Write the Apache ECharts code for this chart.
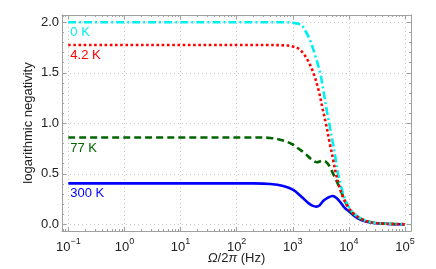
<!DOCTYPE html>
<html><head><meta charset="utf-8">
<script src="https://cdn.jsdelivr.net/npm/echarts@6/dist/echarts.min.js"></script>
<style>html,body{margin:0;padding:0;background:#fff}#c{width:436px;height:269px}</style>
</head><body><div id="c"></div>
<script>
// Tick labels (x: powers of ten, y: values)
const xTickExp = [-1, 0, 1, 2, 3, 4, 5];
const yTicks = [0, 0.5, 1.0, 1.5, 2.0];
const seriesNames = ['0 K', '4.2 K', '77 K', '300 K'];

// x values are log10 of Ω/2π in Hz; y values are logarithmic negativity
const logFreq0K = [-1, 2.5, 2.9, 3.0, 3.1, 3.16, 3.22, 3.31, 3.40, 3.49, 3.55, 3.61, 3.65, 3.71, 3.76, 3.80, 3.90, 4.0, 4.1, 4.2, 4.32, 4.45, 4.6, 4.8, 5.0];
const neg0K     = [2.0, 2.0, 2.0, 1.995, 1.985, 1.97, 1.92, 1.82, 1.67, 1.495, 1.31, 1.115, 1.0, 0.82, 0.66, 0.52, 0.30, 0.17, 0.10, 0.062, 0.031, 0.015, 0.007, 0.003, 0.001];

const logFreq4K = [-1, 2.5, 2.9, 3.0, 3.10, 3.19, 3.28, 3.37, 3.46, 3.53, 3.59, 3.66, 3.72, 3.77, 3.88, 4.0, 4.1, 4.2, 4.32, 4.45, 4.6, 4.8, 5.0];
const neg4K     = [1.775, 1.775, 1.77, 1.76, 1.74, 1.69, 1.61, 1.495, 1.33, 1.15, 1.0, 0.80, 0.64, 0.50, 0.29, 0.16, 0.10, 0.06, 0.03, 0.015, 0.007, 0.003, 0.001];

const logFreq77K = [-1, 2.3, 2.6, 2.83, 3.0, 3.1, 3.22, 3.34, 3.43, 3.53, 3.60, 3.66, 3.72, 3.78, 3.84, 3.94, 4.02, 4.1, 4.2, 4.32, 4.45, 4.6, 4.8, 5.0];
const neg77K     = [0.86, 0.86, 0.855, 0.83, 0.79, 0.75, 0.70, 0.64, 0.615, 0.63, 0.615, 0.57, 0.50, 0.43, 0.356, 0.22, 0.14, 0.09, 0.058, 0.03, 0.015, 0.007, 0.003, 0.001];

const logFreq300K = [-1, 2.3, 2.6, 2.83, 3.01, 3.16, 3.28, 3.35, 3.42, 3.48, 3.55, 3.63, 3.71, 3.78, 3.86, 3.93, 4.0, 4.08, 4.16, 4.26, 4.38, 4.5, 4.7, 5.0];
const neg300K     = [0.405, 0.405, 0.40, 0.38, 0.34, 0.27, 0.21, 0.185, 0.175, 0.19, 0.235, 0.265, 0.28, 0.26, 0.21, 0.16, 0.13, 0.09, 0.06, 0.035, 0.018, 0.01, 0.004, 0.001];

const X_MIN = -1.112, X_MAX = 5.107, Y_MIN = -0.066, Y_MAX = 2.072;
const FONT = '"Liberation Sans", Arial, sans-serif';
const FRAME = '#a0a0a0';

const xMinor = [];
for (let n = -2; n <= 5; n++) for (let k = 2; k <= 9; k++) {
  const v = n + Math.log10(k);
  if (v > X_MIN && v < X_MAX) xMinor.push(v);
}
const yMinor = [];
for (let i = 0; i <= 20; i++) { const v = i / 10; if (i % 5 !== 0) yMinor.push(v); }

function zip(xs, ys) { return xs.map((x, i) => [x, ys[i]]); }

function axisBase(extra) {
  return Object.assign({
    type: 'value', gridIndex: 0,
    axisLine: { show: false, onZero: false },
    axisLabel: { show: false },
    splitLine: { show: false },
    axisTick: { show: false }
  }, extra);
}
function tickAxis(dim, position, values, len, withLine) {
  const isX = dim === 'x';
  return axisBase({
    min: isX ? X_MIN : Y_MIN, max: isX ? X_MAX : Y_MAX, position: position,
    axisLine: { show: !!withLine, onZero: false, lineStyle: { color: FRAME, width: 1 } },
    axisTick: { show: true, inside: true, length: len, customValues: values, lineStyle: { color: FRAME, width: 1 } }
  });
}

const xAxes = [
  axisBase({
    min: X_MIN, max: X_MAX, position: 'bottom',
    axisLine: { show: true, onZero: false, lineStyle: { color: FRAME, width: 1 } },
    axisTick: { show: true, inside: true, length: 4, customValues: xTickExp, lineStyle: { color: FRAME } },
    axisLabel: {
      show: true, customValues: xTickExp, margin: 6,
      formatter: v => '{b|10}{s|' + String(Math.round(v)).replace('-', '\u2212') + '}',
      rich: {
        b: { fontFamily: FONT, fontSize: 13, color: '#222', lineHeight: 17, verticalAlign: 'bottom' },
        s: { fontFamily: FONT, fontSize: 9, color: '#222', lineHeight: 10, verticalAlign: 'top' }
      }
    },
    splitLine: { show: true, lineStyle: { color: '#c8c8c8', type: [1, 3], width: 1 } },
    name: '{i|\u03A9}/2{i|\u03C0} (Hz)', nameLocation: 'middle', nameGap: 21, nameMoveOverlap: false,
    nameTextStyle: {
      fontFamily: FONT, fontSize: 13, color: '#222',
      rich: { i: { fontFamily: FONT, fontSize: 13, fontStyle: 'italic', color: '#222' } }
    }
  }),
  tickAxis('x', 'bottom', xMinor, 2, false),
  tickAxis('x', 'top', xTickExp, 4, true),
  tickAxis('x', 'top', xMinor, 2, false)
];

const yAxes = [
  axisBase({
    min: Y_MIN, max: Y_MAX, position: 'left',
    axisLine: { show: true, onZero: false, lineStyle: { color: FRAME, width: 1 } },
    axisTick: { show: true, inside: true, length: 4, customValues: yTicks, lineStyle: { color: FRAME } },
    axisLabel: {
      show: true, customValues: yTicks, margin: 3,
      formatter: v => v.toFixed(1),
      fontFamily: FONT, fontSize: 13, color: '#222'
    },
    splitLine: { show: true, lineStyle: { color: '#c8c8c8', type: [1, 3], width: 1 } },
    name: 'logarithmic negativity', nameLocation: 'middle', nameGap: 27, nameMoveOverlap: false,
    nameTextStyle: { fontFamily: FONT, fontSize: 13, color: '#222' }
  }),
  tickAxis('y', 'left', yMinor, 2, false),
  tickAxis('y', 'right', yTicks, 4, true),
  tickAxis('y', 'right', yMinor, 2, false)
];

function lineSeries(name, xs, ys, color, dash, labelX, labelY, z) {
  return {
    name: name, type: 'line', xAxisIndex: 0, yAxisIndex: 0,
    data: zip(xs, ys), showSymbol: false, symbol: 'none',
    smooth: 0.35, z: z,
    lineStyle: { color: color, width: 2.6, type: dash, cap: 'butt' },
    markPoint: {
      symbol: 'circle', symbolSize: 0, silent: true, animation: false,
      data: [{ coord: [labelX, labelY] }],
      label: { show: true, formatter: name, position: [2, 4], color: color, fontFamily: FONT, fontSize: 13 }
    }
  };
}

const chart = echarts.init(document.getElementById('c'), null, { renderer: 'canvas' });
chart.setOption({
  animation: false,
  backgroundColor: '#fff',
  grid: { left: 62, right: 25, top: 15, bottom: 38, containLabel: false, outerBoundsMode: 'none' },
  xAxis: xAxes,
  yAxis: yAxes,
  series: [
    lineSeries(seriesNames[3], logFreq300K, neg300K, '#0000ff', 'solid', logFreq300K[0], neg300K[0], 2),
    lineSeries(seriesNames[2], logFreq77K, neg77K, '#006400', [7, 4], logFreq77K[0], neg77K[0], 3),
    lineSeries(seriesNames[0], logFreq0K, neg0K, '#00f0f0', [8, 3, 2, 3], logFreq0K[0], neg0K[0], 4),
    lineSeries(seriesNames[1], logFreq4K, neg4K, '#ff0000', [2.6, 2.6], logFreq4K[0], neg4K[0], 5)
  ]
});
</script></body></html>
